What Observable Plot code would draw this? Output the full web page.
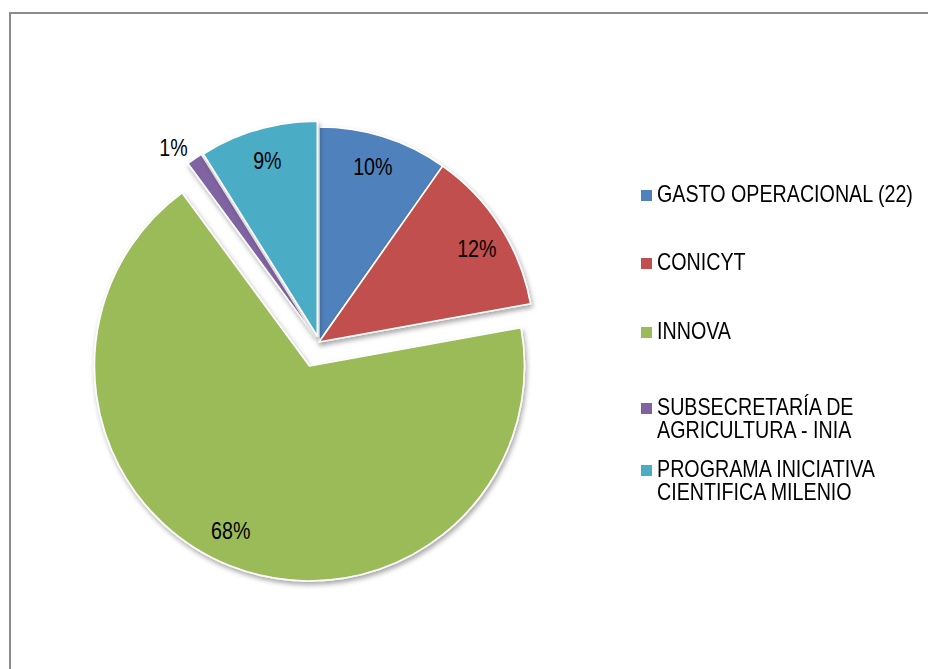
<!DOCTYPE html>
<html>
<head>
<meta charset="utf-8">
<script src="https://cdn.jsdelivr.net/npm/d3@7"></script>
<script src="https://cdn.jsdelivr.net/npm/@observablehq/plot@0.6"></script>
<style>
  html, body { margin: 0; padding: 0; background: #fff; overflow: hidden; }
  #wrap { position: relative; width: 928px; height: 669px; overflow: hidden; background: #fff; }
  #frame { position: absolute; left: 9px; top: 12px; width: 1000px; height: 800px;
           border-left: 2px solid #8c8c8c; border-top: 2px solid #8c8c8c; }
  #chart { position: absolute; left: 0; top: 0; }
  #legend { position: absolute; left: 641px; top: 0; width: 287px; height: 669px;
            font-family: "Liberation Sans", Arial, sans-serif;
            font-size: 24px; color: #000; }
  .item { position: absolute; left: 0; white-space: pre; }
  .sw { position: absolute; left: 0; top: 8px; width: 11px; height: 11px; }
  .lab { position: absolute; left: 16px; top: 0; line-height: 23px;
         transform: scaleX(0.82); transform-origin: 0 0; }
</style>
</head>
<body>
<div id="wrap">
  <div id="frame"></div>
  <div id="chart"></div>
  <div id="legend"></div>
</div>
<script>
// ---- data ----
const categories = [
  "GASTO OPERACIONAL (22)",
  "CONICYT",
  "INNOVA",
  "SUBSECRETARÍA DE\nAGRICULTURA - INIA",
  "PROGRAMA INICIATIVA\nCIENTIFICA MILENIO"
];
const shares = [9.75, 12.4, 67.75, 1.2, 8.9];
const percentLabels = ["10%", "12%", "68%", "1%", "9%"];

// ---- styles / layout ----
const palette = ["#4F81BD", "#C0504D", "#9BBB59", "#8064A2", "#4BACC6"];
const explode = [0, 0, 0.12, 0.03, 0.028];       // fraction of radius
const labelOutside = [false, false, false, true, false];
const labelTurn = [-0.01, 0.035, 0.07, 0, 0];     // small angular nudge (radians)
const legendTops = [182, 250, 319, 395, 457];
const fontFamily = '"Liberation Sans", Arial, sans-serif';
const narrow = 0.82;

const W = 928, H = 669;
const cxPx = 319, cyPx = 342, Rpx = 215;

const arcs = d3.pie().sort(null).value(d => d)(shares);
const slices = arcs.map((a, i) => {
  const mid = (a.startAngle + a.endAngle) / 2;
  const ox = explode[i] * Math.sin(mid), oy = explode[i] * Math.cos(mid);
  const r = labelOutside[i] ? 1.06 : 0.85;
  const la = mid + labelTurn[i];
  return {
    name: categories[i],
    label: percentLabels[i],
    start: a.startAngle, end: a.endAngle,
    cx: ox, cy: oy,
    lx: ox + r * Math.sin(la),
    ly: oy + r * Math.cos(la),
    outside: labelOutside[i],
    color: palette[i]
  };
});

function pieMark(data) {
  return (index, scales) => {
    const X = scales.x, Y = scales.y;
    const rad = X(1) - X(0);
    const g = d3.create("svg:g");
    const defs = g.append("defs");
    const f = defs.append("filter").attr("id", "pieShadow")
      .attr("x", "-20%").attr("y", "-20%").attr("width", "140%").attr("height", "140%");
    f.append("feDropShadow").attr("dx", 1.5).attr("dy", 3).attr("stdDeviation", 2.5)
      .attr("flood-color", "#000").attr("flood-opacity", 0.35);
    const arc = d3.arc().innerRadius(0).outerRadius(rad);
    g.selectAll("path").data(data).join("path")
      .attr("transform", d => `translate(${X(d.cx)},${Y(d.cy)})`)
      .attr("d", d => arc({startAngle: d.start, endAngle: d.end}))
      .attr("fill", d => d.color)
      .attr("stroke", "#fff")
      .attr("stroke-width", 1.6)
      .attr("stroke-linejoin", "round")
      .attr("filter", "url(#pieShadow)");
    return g.node();
  };
}

const chart = Plot.plot({
  width: W, height: H,
  margin: 0,
  style: { background: "transparent", fontFamily, fontSize: "24px", overflow: "visible" },
  x: { domain: [-cxPx / Rpx, (W - cxPx) / Rpx], axis: null },
  y: { domain: [(cyPx - H) / Rpx, cyPx / Rpx], axis: null },
  marks: [
    pieMark(slices),
    Plot.text(slices.filter(d => !d.outside), {
      x: "lx", y: "ly", text: "label",
      fill: "#000", fontSize: 24, textAnchor: "middle", lineAnchor: "middle"
    }),
    Plot.text(slices.filter(d => d.outside), {
      x: "lx", y: "ly", text: "label",
      fill: "#000", fontSize: 24, textAnchor: "end", lineAnchor: "middle"
    })
  ]
});

// narrow (Arial Narrow–like) glyphs: compress each label horizontally about its anchor
d3.select(chart).selectAll("text").each(function() {
  const t = this.getAttribute("transform");
  if (t) {
    this.setAttribute("transform", t + ` scale(${narrow},1)`);
  } else if (this.hasAttribute("x")) {
    const x = +this.getAttribute("x"), y = +(this.getAttribute("y") || 0);
    this.setAttribute("x", 0); this.setAttribute("y", 0);
    this.setAttribute("transform", `translate(${x},${y}) scale(${narrow},1)`);
  }
});
document.getElementById("chart").appendChild(chart);

// legend
const legend = d3.select("#legend");
categories.forEach((c, i) => {
  const it = legend.append("div").attr("class", "item").style("top", legendTops[i] + "px");
  it.append("div").attr("class", "sw").style("background", palette[i]);
  it.append("div").attr("class", "lab").text(c);
});
</script>
</body>
</html>
